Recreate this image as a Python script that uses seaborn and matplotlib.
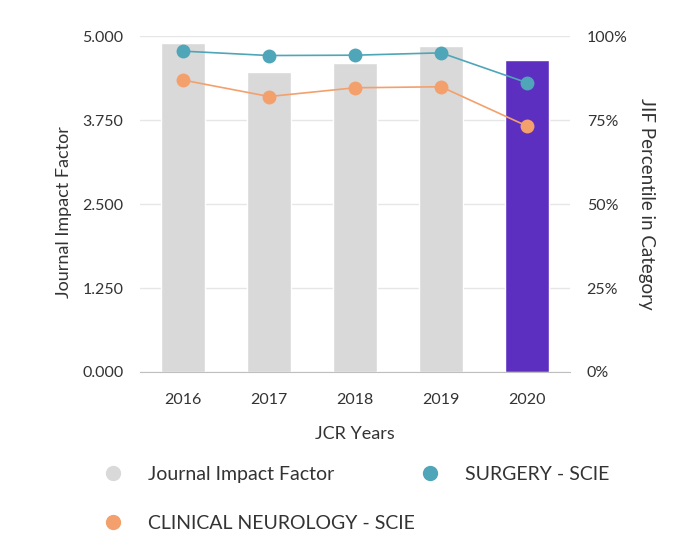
import pandas as pd
import matplotlib.pyplot as plt
import seaborn as sns
from matplotlib.lines import Line2D

years = ['2016', '2017', '2018', '2019', '2020']
jif = [4.89, 4.47, 4.60, 4.85, 4.65]
surgery = [95.5, 94.2, 94.3, 95.0, 86.1]
neurology = [86.9, 82.0, 84.6, 84.9, 73.2]

jif_ticks = [0, 1.25, 2.5, 3.75, 5.0]
jif_tick_labels = ['0.000', '1.250', '2.500', '3.750', '5.000']
pct_ticks = [0, 25, 50, 75, 100]
pct_tick_labels = ['0%', '25%', '50%', '75%', '100%']

grey = '#d9d9d9'
purple = '#5d2fc1'
teal = '#4fa6b8'
orange = '#f4a06c'
text_col = '#333333'

sns.set_style('white')
plt.rcParams['font.family'] = ['Lato', 'DejaVu Sans']

bars = pd.DataFrame({'year': years, 'jif': jif})
lines = pd.DataFrame({
    'year': years * 2,
    'pct': surgery + neurology,
    'cat': ['SURGERY - SCIE'] * 5 + ['CLINICAL NEUROLOGY - SCIE'] * 5,
})

fig = plt.figure(figsize=(6.73, 5.46), dpi=100)
ax1 = fig.add_axes([0.208, 0.3187, 0.639, 0.6153])

sns.barplot(data=bars, x='year', y='jif', hue='year', legend=False,
            palette=[grey] * 4 + [purple], width=0.51, saturation=1, ax=ax1)
ax1.set_ylim(0, 5)
ax1.set_xlim(-0.5, 4.5)
ax1.set_yticks(jif_ticks)
ax1.set_yticklabels(jif_tick_labels)
ax1.yaxis.grid(True, color='#e6e6e6', linewidth=1)
ax1.set_axisbelow(True)
for s in ['top', 'left', 'right']:
    ax1.spines[s].set_visible(False)
ax1.spines['bottom'].set_color('#bfbfbf')
ax1.tick_params(axis='y', length=0, pad=12, labelsize=11.5, labelcolor=text_col)
ax1.tick_params(axis='x', length=0, pad=15, labelsize=11.5, labelcolor=text_col)
ax1.set_xlabel('JCR Years', fontsize=13, color=text_col, labelpad=14)
ax1.set_ylabel('Journal Impact Factor', fontsize=13, color=text_col)
ax1.yaxis.set_label_coords(-0.157, 0.475)

ax2 = ax1.twinx()
sns.lineplot(data=lines, x='year', y='pct', hue='cat', palette=[teal, orange],
             marker='o', markersize=10, markeredgewidth=0, linewidth=1.2,
             sort=False, legend=False, ax=ax2)
ax2.set_ylim(0, 100)
ax2.set_xlim(-0.5, 4.5)
ax2.set_yticks(pct_ticks)
ax2.set_yticklabels(pct_tick_labels)
for s in ['top', 'left', 'right', 'bottom']:
    ax2.spines[s].set_visible(False)
ax2.tick_params(axis='y', length=0, pad=12, labelsize=11.5, labelcolor=text_col)
ax2.set_ylabel('JIF Percentile in Category', fontsize=13.5, color=text_col,
               rotation=270, labelpad=20)
ax2.grid(False)


def dot(c):
    return Line2D([], [], marker='o', linestyle='', color=c, markersize=10)


leg_kw = dict(loc='upper left', frameon=False, fontsize=14, handletextpad=0.8,
              labelspacing=1.65, labelcolor=text_col)
leg1 = fig.legend([dot(grey), dot(orange)],
                  ['Journal Impact Factor', 'CLINICAL NEUROLOGY - SCIE'],
                  bbox_to_anchor=(0.113, 0.179), **leg_kw)
leg2 = fig.legend([dot(teal)], ['SURGERY - SCIE'],
                  bbox_to_anchor=(0.584, 0.179), **leg_kw)

fig.savefig('out.png', dpi=100)
